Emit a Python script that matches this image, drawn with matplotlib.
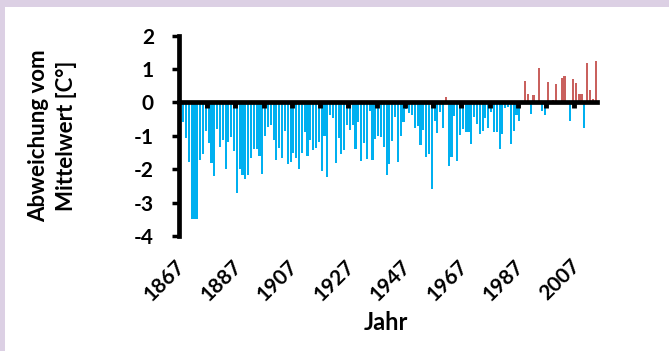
import numpy as np
import matplotlib.pyplot as plt
import matplotlib.transforms as mtransforms
from matplotlib.patches import Rectangle

plt.rcParams['font.family'] = ['Lato', 'DejaVu Sans']

# Jahre 1867 - 2014, Abweichung vom Mittelwert in Grad C
jahre = list(range(1867, 2015))
abweichung = [
    -0.45, -0.59, -1.05, -1.78, -3.49, -3.49, -3.49, -1.71, -1.53, -0.84,
    -1.21, -1.81, -2.20, -0.79, -1.33, -1.13, -1.98, -1.18, -1.03, -1.45,
    -2.70, -1.98, -2.18, -2.30, -2.18, -1.65, -1.38, -1.40, -1.61, -2.13,
    -1.01, -0.74, -0.67, -1.13, -1.73, -1.36, -1.65, -0.84, -1.83, -1.78,
    -1.50, -1.66, -2.00, -1.50, -0.87, -1.60, -1.11, -1.41, -1.36, -1.18,
    -2.06, -1.00, -2.24, -0.39, -0.47, -1.82, -1.06, -1.53, -1.41, -0.67,
    -0.82, -0.67, -1.38, -0.59, -1.75, -1.20, -1.70, -0.27, -1.71, -1.08,
    -1.00, -1.04, -1.33, -2.16, -1.83, -1.16, -0.44, -1.78, -1.00, -0.59,
    -0.19, -0.31, -0.37, -0.77, -0.69, -1.28, -0.81, -1.63, -1.53, -2.58,
    -0.57, -0.91, -0.29, -0.75, 0.15, -1.90, -1.63, -0.41, -1.76, -0.96,
    -0.79, -0.89, -0.89, -1.24, -0.44, -0.66, -0.95, -0.86, -0.48, -0.75,
    -0.29, -0.89, -0.87, -1.38, -0.94, -0.17, -0.14, -1.23, -0.84, -0.39,
    -0.56, -0.05, 0.64, 0.24, -0.34, 0.21, 0.05, 1.03, -0.26, -0.39,
    0.61, 0.05, 0.08, 0.56, 0.05, 0.74, 0.79, 0.05, -0.56, 0.69,
    0.59, 0.24, 0.24, -0.77, 1.18, 0.38, 0.11, 1.23,
]
ytick_werte = [2, 1, 0, -1, -2, -3, -4]
label_jahre = list(range(1867, 2008, 20))
tick_grenzen = [j - 0.5 for j in range(1877, 2008, 10)]

farben = ['#00B0F0' if v < 0 else '#C9615E' for v in abweichung]

fig = plt.figure(figsize=(6.69, 3.51), dpi=100, facecolor='#DCD0E4')
fig.patches.append(Rectangle((5 / 669, 0), 1, 1 - 7 / 351, transform=fig.transFigure,
                             facecolor='white', edgecolor='none', zorder=-5))

ax = fig.add_axes([179 / 669, 1 - 236 / 351, (597 - 179) / 669, (236 - 35.7) / 351])
ax.set_facecolor('none')
ax.bar(jahre, abweichung, width=0.75, color=farben, zorder=1)
ax.set_xlim(1866.5, 2014.5)
ax.set_ylim(-4, 2)

for s in ['top', 'right']:
    ax.spines[s].set_visible(False)
ax.spines['bottom'].set_position(('data', 0))
for s in ['left', 'bottom']:
    ax.spines[s].set_linewidth(3.4)
    ax.spines[s].set_capstyle('projecting')
    ax.spines[s].set_zorder(3)

ax.set_yticks(ytick_werte)
ax.set_yticklabels([str(v) for v in ytick_werte], fontweight='bold', fontsize=15)
ax.tick_params(axis='y', direction='out', length=5, width=2.5, pad=13)
ax.set_xticks(tick_grenzen)
ax.set_xticklabels([''] * len(tick_grenzen))
ax.tick_params(axis='x', direction='out', length=4, width=3.5)

trans = mtransforms.blended_transform_factory(ax.transData, ax.transAxes)
for j in label_jahre:
    ax.text(j - 2, -0.1, str(j), transform=trans, rotation=45, ha='right', va='top',
            rotation_mode='anchor', fontweight='bold', fontsize=15)

fig.text(0.078, 0.6125, 'Abweichung vom\nMittelwert [C°]', rotation=90, ha='center',
         va='center', multialignment='center', fontweight='bold', fontsize=16,
         linespacing=1.4)
fig.text(0.577, 0.08, 'Jahr', ha='center', va='center', fontweight='bold', fontsize=17)

fig.savefig('out.png', dpi=100, facecolor=fig.get_facecolor())
